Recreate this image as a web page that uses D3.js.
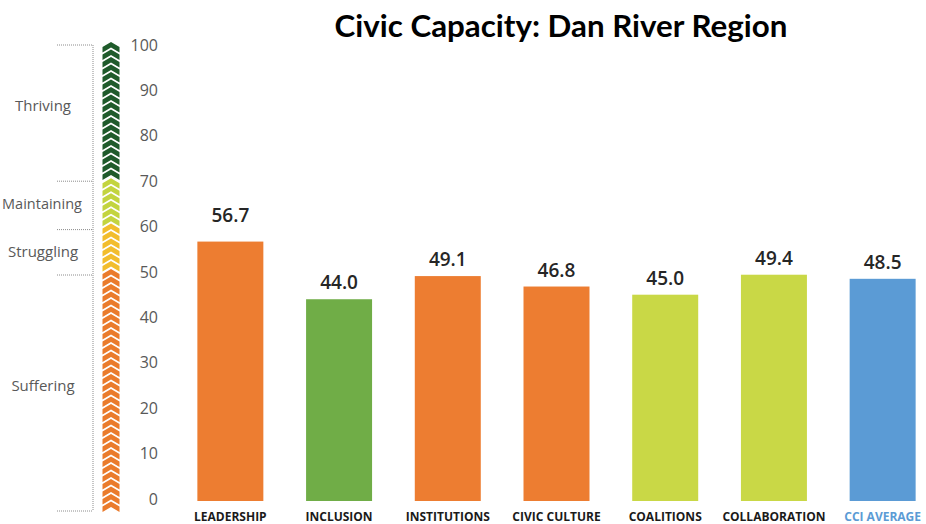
<!DOCTYPE html>
<html>
<head>
<meta charset="utf-8">
<script src="https://cdn.jsdelivr.net/npm/d3@7"></script>
<style>
  html, body { margin: 0; padding: 0; background: #fff; }
  svg { display: block; }
</style>
</head>
<body>
<svg id="chart" width="926" height="524"></svg>
<script>
// ---- data ----
const categories = ["LEADERSHIP", "INCLUSION", "INSTITUTIONS", "CIVIC CULTURE", "COALITIONS", "COLLABORATION", "CCI AVERAGE"];
const values = [56.7, 44.0, 49.1, 46.8, 45.0, 49.4, 48.5];
const barColors = ["#ed7d31", "#70ad47", "#ed7d31", "#ed7d31", "#c9d846", "#c9d846", "#5b9bd5"];
const yTicks = [0, 10, 20, 30, 40, 50, 60, 70, 80, 90, 100];
const zoneNames = ["Thriving", "Maintaining", "Struggling", "Suffering"];
const zoneFrom = [70, 60, 50, 0];
const zoneTo = [100, 70, 60, 50];
const zoneColors = ["#1f5b2b", "#c3d43f", "#f2bd2c", "#ea7b2c"];
const title = "Civic Capacity: Dan River Region";

// ---- layout ----
const svg = d3.select("#chart");
const y = d3.scaleLinear().domain([0, 100]).range([499, 45]);
const x = d3.scaleBand().domain(categories).range([176, 937]).paddingInner(0.393).paddingOuter(0.1965);

// title
const t = svg.append("text")
  .attr("x", 561).attr("y", 37)
  .attr("text-anchor", "middle")
  .style("font-family", "Lato, 'Open Sans', sans-serif")
  .style("font-weight", "bold")
  .style("font-size", "30px")
  .attr("fill", "#000")
  .text(title);
const tw = t.node().getComputedTextLength();
t.style("font-size", (30 * 453 / tw) + "px");

// y axis tick labels
const axis = d3.axisLeft(y).tickValues(yTicks).tickSize(0).tickPadding(0);
const gAxis = svg.append("g").attr("transform", "translate(158,0)").call(axis);
gAxis.select(".domain").remove();
gAxis.selectAll("text")
  .style("font-family", "'Open Sans', sans-serif")
  .style("font-size", "16px")
  .attr("fill", "#595959");

// chevron column
const chevronPitch = 7.5;
const chevronPath = "M0,0 L8.5,5 L8.5,10.5 L0,5.5 L-8.5,10.5 L-8.5,5 Z";
const gChev = svg.append("g").attr("transform", "translate(111,0)");
zoneNames.forEach((name, i) => {
  const top = y(zoneTo[i]) - 3;
  const bottom = (zoneFrom[i] === 0 ? y(0) + 10 : y(zoneFrom[i]) - 3);
  const n = Math.round((bottom - top) / chevronPitch);
  const ys = d3.range(n).map(k => top + k * chevronPitch);
  gChev.selectAll(null).data(ys).join("path")
    .attr("d", chevronPath)
    .attr("transform", d => `translate(0,${d})`)
    .attr("fill", zoneColors[i]);
});

// dotted brackets
const dotted = { stroke: "#8c8c8c", "stroke-width": 1, "stroke-dasharray": "1,1" };
const bracketYs = [y(100), y(70), y(60) + 3, y(50) + 3, y(0) + 12];
bracketYs.forEach(v => {
  const l = svg.append("line").attr("x1", 57).attr("x2", 93).attr("y1", v).attr("y2", v);
  Object.entries(dotted).forEach(([k, val]) => l.attr(k, val));
});
const vl = svg.append("line").attr("x1", 93).attr("x2", 93).attr("y1", y(100)).attr("y2", y(0) + 12);
Object.entries(dotted).forEach(([k, val]) => vl.attr(k, val));

// zone labels
const zoneLabelY = [107, 205, 253, 387];
const zoneLabelX = [43, 42, 43, 43];
zoneNames.forEach((name, i) => {
  svg.append("text")
    .attr("x", zoneLabelX[i]).attr("y", zoneLabelY[i])
    .attr("text-anchor", "middle")
    .attr("dominant-baseline", "middle")
    .style("font-family", "'Open Sans', sans-serif")
    .style("font-size", i === 1 ? "14.5px" : "15px")
    .attr("fill", "#595959")
    .text(name);
});

// bars
svg.selectAll("rect.bar").data(categories).join("rect")
  .attr("class", "bar")
  .attr("x", d => x(d))
  .attr("width", x.bandwidth())
  .attr("y", (d, i) => y(values[i]))
  .attr("height", (d, i) => 501 - y(values[i]))
  .attr("fill", (d, i) => barColors[i]);

// value labels
svg.selectAll("text.val").data(categories).join("text")
  .attr("class", "val")
  .attr("x", d => x(d) + x.bandwidth() / 2)
  .attr("y", (d, i) => y(values[i]) - (i === 0 ? 20 : 10))
  .attr("text-anchor", "middle")
  .style("font-family", "'Open Sans', sans-serif")
  .style("font-size", "19px")
  .style("font-weight", "600")
  .attr("fill", "#262626")
  .text((d, i) => values[i].toFixed(1));

// category labels
svg.selectAll("text.cat").data(categories).join("text")
  .attr("class", "cat")
  .attr("x", d => x(d) + x.bandwidth() / 2)
  .attr("y", 521)
  .attr("text-anchor", "middle")
  .style("font-family", "'Open Sans', sans-serif")
  .style("font-weight", "bold")
  .style("font-size", "12px")
  .attr("fill", (d, i) => i === categories.length - 1 ? "#5b9bd5" : "#1a1a1a")
  .text(d => d);
</script>
</body>
</html>
